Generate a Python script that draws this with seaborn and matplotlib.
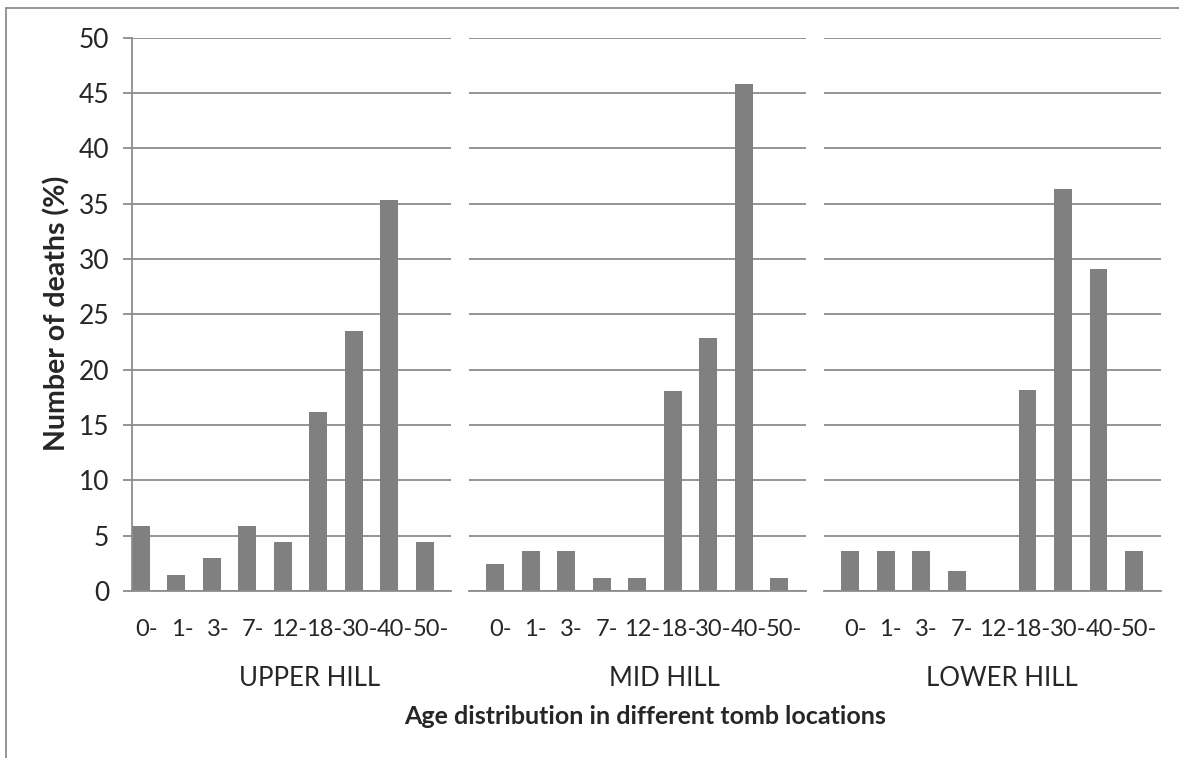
import pandas as pd
import numpy as np
import seaborn as sns
import matplotlib.pyplot as plt
import matplotlib.transforms as mtransforms
from matplotlib.patches import Rectangle

# age groups and % of deaths per tomb location
ages = ['0-', '1-', '3-', '7-', '12-', '18-', '30-', '40-', '50-']
locations = ['UPPER HILL', 'MID HILL', 'LOWER HILL']
upper_hill = [5.88, 1.47, 2.94, 5.88, 4.41, 16.18, 23.53, 35.29, 4.41]
mid_hill = [2.41, 3.61, 3.61, 1.20, 1.20, 18.07, 22.89, 45.78, 1.20]
lower_hill = [3.64, 3.64, 3.64, 1.82, 0.0, 18.18, 36.36, 29.09, 3.64]
y_ticks = [0, 5, 10, 15, 20, 25, 30, 35, 40, 45, 50]

# long format table for seaborn
data = pd.DataFrame({
    'location': np.repeat(locations, len(ages)),
    'age': ages * len(locations),
    'pct': upper_hill + mid_hill + lower_hill,
})

sns.set_style('white')
plt.rcParams['font.family'] = ['Lato', 'DejaVu Sans']

grey = '#8c8c8c'
bar_grey = '#808080'
W, H = 1179, 758

fig = plt.figure(figsize=(W / 100, H / 100), dpi=100)

# panel placement in pixels (left, right)
panels_px = [(132, 451), (469, 806), (824, 1161)]
bottom_px, top_px = 591, 37.7
xlims = [(-0.25, 8.74), (-0.74, 8.75), (-0.74, 8.76)]
label_pos = [0.556, 0.580, 0.527]

for i, loc in enumerate(locations):
    l, r = panels_px[i]
    ax = fig.add_axes([l / W, 1 - bottom_px / H, (r - l) / W, (bottom_px - top_px) / H])
    sub = data[data['location'] == loc]
    sns.barplot(data=sub, x='age', y='pct', order=ages, color=bar_grey,
                saturation=1, width=0.5, linewidth=0, ax=ax)
    ax.set_xlim(*xlims[i])
    ax.set_ylim(0, 50)
    ax.set_yticks(y_ticks)
    ax.yaxis.grid(True, color=grey, lw=1.3)
    ax.set_axisbelow(True)
    ax.set_xlabel('')
    ax.set_ylabel('')
    for s in ['top', 'right']:
        ax.spines[s].set_visible(False)
    ax.spines['bottom'].set_color(grey)
    ax.spines['bottom'].set_linewidth(1.3)
    ax.tick_params(axis='x', length=0, pad=20, labelsize=17)
    # age labels sit a little right of the bars, like the original
    shift = mtransforms.ScaledTranslation((6 if i == 0 else 5) / 100, 0, fig.dpi_scale_trans)
    for lab in ax.get_xticklabels():
        lab.set_transform(lab.get_transform() + shift)
    if i == 0:
        ax.spines['left'].set_color(grey)
        ax.spines['left'].set_linewidth(1.3)
        ax.tick_params(axis='y', length=6.5, width=1.3, color=grey,
                       direction='out', pad=10, labelsize=19, left=True)
    else:
        ax.spines['left'].set_visible(False)
        ax.tick_params(axis='y', length=0, labelleft=False)
    ax.text(label_pos[i], (bottom_px - 678) / (bottom_px - top_px), loc,
            transform=ax.transAxes, ha='center', va='center', fontsize=18.5)

fig.text(645 / W, 1 - 716 / H, 'Age distribution in different tomb locations',
         ha='center', va='center', fontsize=18, fontweight='bold')
fig.text(57 / W, 1 - 313 / H, 'Number of deaths (%)', rotation=90,
         ha='center', va='center', fontsize=20.5, fontweight='bold')

# outer chart frame (only left and top edges fall inside the image)
fig.patches.append(Rectangle((6 / W, -0.1), 1.2, 1.1 - 8 / H,
                             transform=fig.transFigure, fill=False,
                             edgecolor=grey, lw=1.3))

fig.savefig('out.png', dpi=100)
